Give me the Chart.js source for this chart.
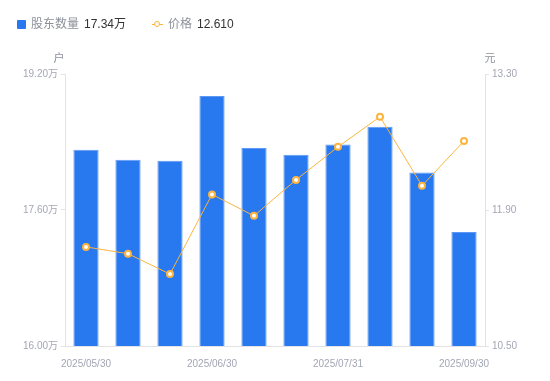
<!DOCTYPE html>
<html>
<head>
<meta charset="utf-8">
<script src="https://cdn.jsdelivr.net/npm/chart.js@4.4.1/dist/chart.umd.min.js"></script>
<style>
  html, body { margin:0; padding:0; background:#fff; }
  #wrap { position:relative; width:550px; height:381px; }
  #ikc { position:absolute; left:0; top:0; }
  .lg { position:absolute; top:16px; font:12px 'Liberation Sans','Noto Sans CJK SC',sans-serif; line-height:16px; white-space:nowrap; }
  .lg .name { color:#8c909a; }
  .lg .val { color:#333; margin-left:5px; }
  .sq { display:inline-block; width:9px; height:9px; background:#2878f0; border-radius:1px; margin-right:5px; vertical-align:-1px; }
  .ln { display:inline-block; position:relative; width:11px; height:9px; margin-right:5px; vertical-align:-1px; }
  .ln:before { content:''; position:absolute; left:0; right:0; top:4px; height:1px; background:#fdb43f; }
  .ln:after { content:''; position:absolute; left:2px; top:1px; width:4px; height:4px; border:1.5px solid #fdb43f; border-radius:50%; background:#fff; }
</style>
</head>
<body>
<div id="wrap">
  <canvas id="ikc" width="550" height="381"></canvas>
  <div class="lg" style="left:17px"><span class="sq"></span><span class="name">股东数量</span><span class="val">17.34万</span></div>
  <div class="lg" style="left:152px"><span class="ln"></span><span class="name">价格</span><span class="val">12.610</span></div>
</div>
<script>
var labels = ["2025/05/30","2025/06/10","2025/06/20","2025/06/30","2025/07/10","2025/07/20","2025/07/31","2025/08/20","2025/08/31","2025/09/30"];
var holders = [18.31,18.19,18.18,18.94,18.33,18.25,18.37,18.58,18.04,17.34]; // 万户
var price = [11.52,11.45,11.24,12.06,11.84,12.21,12.55,12.86,12.15,12.61]; // 元
var showIdx = [0,3,6,9];

var axisFont = { family:"'Liberation Sans','Noto Sans CJK SC',sans-serif", size:10 };
var grey = '#a3a6b4';
var lineGrey = '#e3e3e6';

// axis unit titles 户 / 元
var unitTitles = {
    id: 'unitTitles',
    afterDraw: function(chart) {
        var c = chart.ctx, a = chart.chartArea;
        c.save();
        c.font = "11px 'Noto Sans CJK SC',sans-serif";
        c.fillStyle = '#8c909a';
        c.textBaseline = 'middle';
        c.textAlign = 'center';
        c.fillText('户', a.left - 6, a.top - 16);
        c.fillText('元', a.right + 5, a.top - 16);
        c.restore();
    }
};

var ctx = document.getElementById('ikc').getContext('2d');
var myChart = new Chart(ctx, {
    type: 'bar',
    data: {
        labels: labels,
        datasets: [{
            label: '价格',
            type: 'line',
            data: price,
            yAxisID: 'y1',
            borderColor: '#fdb43f',
            borderWidth: 1,
            pointRadius: 3,
            pointBorderWidth: 2,
            pointBackgroundColor: '#fff',
            pointBorderColor: '#fdb43f',
            tension: 0,
            order: 0
        },
        {
            label: '股东数量',
            data: holders,
            yAxisID: 'y',
            backgroundColor: '#2878f0',
            borderColor: '#5e98f4',
            borderWidth: { top: 1, left: 1, right: 1, bottom: 0 },
            barPercentage: 0.6,
            categoryPercentage: 1,
            order: 1
        }]
    },
    options: {
        responsive: false,
        animation: false,
        layout: { padding: { top: 74, left: 0, right: 0, bottom: 0 } },
        plugins: { legend: { display: false }, tooltip: { enabled: false } },
        scales: {
            x: {
                grid: { display: false },
                border: { display: true, color: lineGrey },
                ticks: {
                    autoSkip: false, maxRotation: 0, color: grey, font: axisFont, padding: 4,
                    callback: function(v, i) { return showIdx.indexOf(i) >= 0 ? labels[i] : ''; }
                },
                afterFit: function(s) { s.height = 35; }
            },
            y: {
                position: 'left',
                min: 16, max: 19.2,
                grid: { drawOnChartArea: false, drawTicks: true, tickLength: 4, color: lineGrey },
                border: { display: true, color: lineGrey },
                ticks: {
                    stepSize: 1.6, color: grey, font: axisFont, padding: 3,
                    callback: function(v) { return v.toFixed(2) + '万'; }
                },
                afterFit: function(s) { s.width = 65; }
            },
            y1: {
                position: 'right',
                min: 10.5, max: 13.3,
                grid: { drawOnChartArea: false, drawTicks: true, tickLength: 4, color: lineGrey },
                border: { display: true, color: lineGrey },
                ticks: {
                    stepSize: 1.4, color: grey, font: axisFont, padding: 3,
                    callback: function(v) { return v.toFixed(2); }
                },
                afterFit: function(s) { s.width = 65; }
            }
        }
    },
    plugins: [unitTitles]
});
</script>
</body>
</html>
